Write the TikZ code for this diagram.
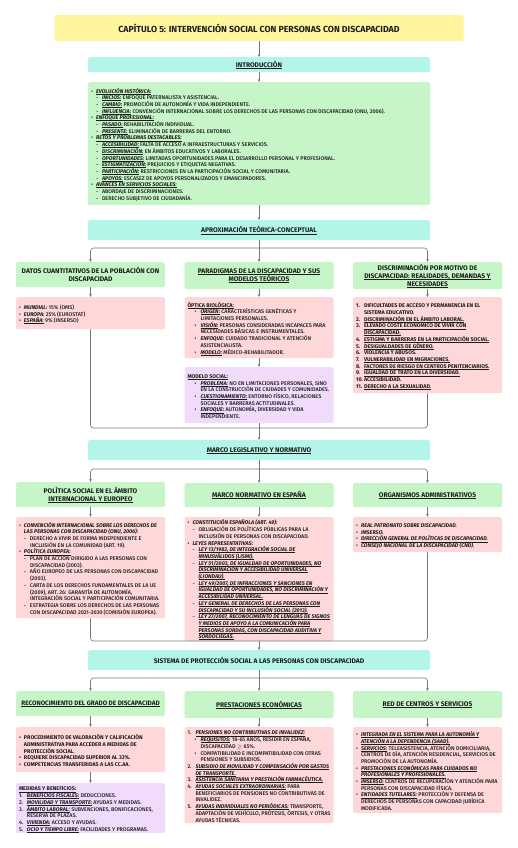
\documentclass[tikz,border=0pt]{standalone}
\usepackage{fontspec}
\setmainfont{Fira Sans}[UprightFont={* Medium}, ItalicFont={* Medium Italic}, BoldFont={* Bold}, BoldItalicFont={* Bold Italic}]
\usetikzlibrary{arrows.meta}

\definecolor{ttlyellow}{HTML}{FEF59E}
\definecolor{secteal}{HTML}{B4F5EA}
\definecolor{hdgreen}{HTML}{C6F6C8}
\definecolor{txpink}{HTML}{FED8D8}
\definecolor{txlilac}{HTML}{F1DBFB}
\definecolor{linkgray}{HTML}{777777}
\definecolor{inkdark}{HTML}{1C1C1C}

\newcommand{\bodyfont}{\fontsize{5.4}{6.7}\selectfont}
\newcommand{\headfont}{\fontsize{6.7}{8}\selectfont\bfseries}
\newcommand{\ulword}[1]{\leavevmode\setbox0\hbox{#1}\rlap{\rule[-1pt]{\wd0}{0.35pt}}\box0}
\newcommand{\ulspace}{\leaders\hrule height -0.65pt depth 1pt\hskip\fontdimen2\font\relax}
\def\ulA#1 #2\ulend{\ulword{#1}\if\relax\detokenize{#2}\relax\else\ulspace\ulA#2\ulend\fi}
\newcommand{\ulin}[1]{\ulA#1 \ulend}
\newcommand{\lbl}[1]{\textbf{\textit{\ulin{#1}}}}
\newcommand{\lblx}[1]{\textbf{\textit{#1}}}
\newcommand{\topi}[1]{\par\noindent\hangindent=5pt\hangafter=1\makebox[5pt][l]{\textbullet}#1\par}
\newcommand{\subi}[1]{\par\noindent\hangindent=11pt\hangafter=1\hspace*{5pt}\makebox[6pt][l]{-}#1\par}
\newcommand{\subb}[1]{\par\noindent\hangindent=13pt\hangafter=1\hspace*{7pt}\makebox[6pt][l]{\textbullet}#1\par}
\newcommand{\numi}[2]{\par\noindent\hangindent=8pt\hangafter=1\makebox[8pt][l]{#1.}#2\par}

\begin{document}
\begin{tikzpicture}[x=1pt, y=-1pt,
	wide/.style={anchor=north, rounded corners=2pt, text width=336pt, inner xsep=3pt, inner ysep=1pt, align=flush center, font=\headfont, text=inkdark},
	col/.style={anchor=north, rounded corners=2pt, text width=143pt, inner xsep=3pt, inner ysep=1pt, align=flush left, font=\bodyfont, text=inkdark},
	hd/.style={col, text width=147pt, inner xsep=1pt, align=flush center, font=\headfont, fill=hdgreen},
	conn/.style={draw=linkgray, line width=0.6pt, rounded corners=3pt},
	arr/.style={conn, -{Stealth[length=3pt, width=2.6pt]}}]
	\useasboundingbox (0,0) rectangle (517,848);

	\node[wide, fill=ttlyellow, text width=403pt, minimum height=26pt, font=\fontsize{8.8}{10}\selectfont\bfseries] (title) at (259,15) {CAPÍTULO 5: INTERVENCIÓN SOCIAL CON PERSONAS CON DISCAPACIDAD};
	\node[wide, fill=secteal, minimum height=15pt] (intro) at (259,57) {\ulin{INTRODUCCIÓN}};
	\node[wide, fill=hdgreen, align=flush left, font=\bodyfont, minimum height=123pt] (introtxt) at (259,82) {%
		\topi{\lbl{EVOLUCIÓN HISTÓRICA:}}
		\subi{\lbl{INICIOS:} ENFOQUE PATERNALISTA Y ASISTENCIAL.}
		\subi{\lbl{CAMBIO:} PROMOCIÓN DE AUTONOMÍA Y VIDA INDEPENDIENTE.}
		\subi{\lbl{INFLUENCIA:} CONVENCIÓN INTERNACIONAL SOBRE LOS DERECHOS DE LAS PERSONAS CON DISCAPACIDAD (ONU, 2006).}
		\topi{\lbl{ENFOQUE PROFESIONAL:}}
		\subi{\lbl{PASADO:} REHABILITACIÓN INDIVIDUAL.}
		\subi{\lbl{PRESENTE:} ELIMINACIÓN DE BARRERAS DEL ENTORNO.}
		\topi{\lbl{RETOS Y PROBLEMAS DESTACABLES:}}
		\subi{\lbl{ACCESIBILIDAD:} FALTA DE ACCESO A INFRAESTRUCTURAS Y SERVICIOS.}
		\subi{\lbl{DISCRIMINACIÓN:} EN ÁMBITOS EDUCATIVOS Y LABORALES.}
		\subi{\lbl{OPORTUNIDADES:} LIMITADAS OPORTUNIDADES PARA EL DESARROLLO PERSONAL Y PROFESIONAL.}
		\subi{\lbl{ESTIGMATIZACIÓN:} PREJUICIOS Y ETIQUETAS NEGATIVAS.}
		\subi{\lbl{PARTICIPACIÓN:} RESTRICCIONES EN LA PARTICIPACIÓN SOCIAL Y COMUNITARIA.}
		\subi{\lbl{APOYOS:} ESCASEZ DE APOYOS PERSONALIZADOS Y EMANCIPADORES.}
		\topi{\lbl{AVANCES EN SERVICIOS SOCIALES:}}
		\subi{ABORDAJE DE DISCRIMINACIONES.}
		\subi{DERECHO SUBJETIVO DE CIUDADANÍA.}};
	\node[wide, fill=secteal, minimum height=20pt] (aprox) at (259,220) {\ulin{APROXIMACIÓN TEÓRICA-CONCEPTUAL}};

	\node[hd, minimum height=25pt] (datos) at (90.5,262) {DATOS CUANTITATIVOS DE LA POBLACIÓN CON\\DISCAPACIDAD};
	\node[hd, minimum height=27pt] (paradig) at (259,262) {\ulin{PARADIGMAS DE LA DISCAPACIDAD Y SUS}\\\ulin{MODELOS TEÓRICOS}};
	\node[hd, minimum height=27pt] (discrim) at (427.5,262) {DISCRIMINACIÓN POR MOTIVO DE\\\ulin{DISCAPACIDAD: REALIDADES, DEMANDAS Y}\\\ulin{NECESIDADES}};

	\node[col, fill=txpink, minimum height=32pt] (datostxt) at (90.5,297) {%
		\topi{\lblx{MUNDIAL:} 15\% (OMS)}
		\topi{\lblx{EUROPA:} 25\% (EUROSTAT)}
		\topi{\lbl{ESPAÑA:} 9\% (INSERSO)}};
	\node[col, fill=txpink, minimum height=61pt] (paradigbio) at (259,297) {%
		\par\noindent\textbf{\ulin{ÓPTICA BIOLÓGICA:}}
		\subb{\lbl{ORIGEN:} CARACTERÍSTICAS GENÉTICAS Y LIMITACIONES PERSONALES.}
		\subb{\lbl{VISIÓN:} PERSONAS CONSIDERADAS INCAPACES PARA NECESIDADES BÁSICAS E INSTRUMENTALES.}
		\subb{\lblx{ENFOQUE:} CUIDADO TRADICIONAL Y ATENCIÓN ASISTENCIALISTA.}
		\subb{\lbl{MODELO:} MÉDICO-REHABILITADOR.}};
	\node[col, fill=txlilac, minimum height=56pt] (paradigsoc) at (259,367) {%
		\par\noindent\textbf{\ulin{MODELO SOCIAL:}}
		\subb{\lbl{PROBLEMA:} NO EN LIMITACIONES PERSONALES, SINO EN LA CONSTRUCCIÓN DE CIUDADES Y COMUNIDADES.}
		\subb{\lbl{CUESTIONAMIENTO:} ENTORNO FÍSICO, RELACIONES SOCIALES Y BARRERAS ACTITUDINALES.}
		\subb{\lbl{ENFOQUE:} AUTONOMÍA, DIVERSIDAD Y VIDA INDEPENDIENTE.}};
	\node[col, fill=txpink, minimum height=96pt, font=\bodyfont\bfseries] (discrimtxt) at (427.5,297) {%
		\numi{1}{DIFICULTADES DE ACCESO Y PERMANENCIA EN EL SISTEMA EDUCATIVO.}
		\numi{2}{\ulin{DISCRIMINACIÓN EN EL ÁMBITO LABORAL.}}
		\numi{3}{\ulin{ELEVADO COSTE ECONÓMICO DE VIVIR CON DISCAPACIDAD.}}
		\numi{4}{\ulin{ESTIGMA Y BARRERAS EN LA PARTICIPACIÓN SOCIAL.}}
		\numi{5}{\ulin{DESIGUALDADES DE GÉNERO.}}
		\numi{6}{VIOLENCIA Y ABUSOS.}
		\numi{7}{\ulin{VULNERABILIDAD EN MIGRACIONES.}}
		\numi{8}{\ulin{FACTORES DE RIESGO EN CENTROS PENITENCIARIOS.}}
		\numi{9}{\ulin{IGUALDAD DE TRATO EN LA DIVERSIDAD.}}
		\numi{10}{ACCESIBILIDAD.}
		\numi{11}{\ulin{DERECHO A LA SEXUALIDAD.}}};

	\node[wide, fill=secteal, minimum height=20pt] (marco) at (259,440) {\ulin{MARCO LEGISLATIVO Y NORMATIVO}};

	\node[hd, minimum height=25pt] (polsoc) at (90.5,482) {POLÍTICA SOCIAL EN EL ÁMBITO\\\ulin{INTERNACIONAL Y EUROPEO}};
	\node[hd, minimum height=24pt] (marcoesp) at (259,483) {\ulin{MARCO NORMATIVO EN ESPAÑA}};
	\node[hd, minimum height=24pt] (organ) at (427.5,483) {\ulin{ORGANISMOS ADMINISTRATIVOS}};

	\node[col, fill=txpink, minimum height=101pt] (polsoctxt) at (90.5,517) {%
		\topi{\lblx{CONVENCIÓN INTERNACIONAL SOBRE LOS DERECHOS DE LAS PERSONAS CON DISCAPACIDAD (ONU, 2006):}}
		\subi{DERECHO A VIVIR DE FORMA INDEPENDIENTE E INCLUSIÓN EN LA COMUNIDAD (ART. 19).}
		\topi{\lbl{POLÍTICA EUROPEA:}}
		\subi{PLAN DE ACCIÓN DIRIGIDO A LAS PERSONAS CON DISCAPACIDAD (2003).}
		\subi{AÑO EUROPEO DE LAS PERSONAS CON DISCAPACIDAD (2003).}
		\subi{CARTA DE LOS DERECHOS FUNDAMENTALES DE LA UE (2009), ART. 26: GARANTÍA DE AUTONOMÍA, INTEGRACIÓN SOCIAL Y PARTICIPACIÓN COMUNITARIA.}
		\subi{ESTRATEGIA SOBRE LOS DERECHOS DE LAS PERSONAS CON DISCAPACIDAD 2021-2030 (COMISIÓN EUROPEA).}};
	\node[col, fill=txpink, minimum height=116pt] (marcoesptxt) at (259,517) {%
		\topi{\lblx{CONSTITUCIÓN ESPAÑOLA (ART. 49):}}
		\subi{OBLIGACIÓN DE POLÍTICAS PÚBLICAS PARA LA INCLUSIÓN DE PERSONAS CON DISCAPACIDAD.}
		\topi{\lblx{LEYES REPRESENTATIVAS:}}
		\subi{\lbl{LEY 13/1982, DE INTEGRACIÓN SOCIAL DE MINUSVÁLIDOS (LISMI).}}
		\subi{\lbl{LEY 51/2003, DE IGUALDAD DE OPORTUNIDADES, NO DISCRIMINACIÓN Y ACCESIBILIDAD UNIVERSAL (LIONDAU).}}
		\subi{\lbl{LEY 49/2007, DE INFRACCIONES Y SANCIONES EN IGUALDAD DE OPORTUNIDADES, NO DISCRIMINACIÓN Y ACCESIBILIDAD UNIVERSAL.}}
		\subi{\lbl{LEY GENERAL DE DERECHOS DE LAS PERSONAS CON DISCAPACIDAD Y SU INCLUSIÓN SOCIAL (2013).}}
		\subi{\lbl{LEY 27/2007, RECONOCIMIENTO DE LENGUAS DE SIGNOS Y MEDIOS DE APOYO A LA COMUNICACIÓN PARA PERSONAS SORDAS, CON DISCAPACIDAD AUDITIVA Y SORDOCIEGAS.}}};
	\node[col, fill=txpink, minimum height=35pt] (organtxt) at (427.5,517) {%
		\topi{\lblx{REAL PATRONATO SOBRE DISCAPACIDAD.}}
		\topi{\lblx{IMSERSO.}}
		\topi{\lbl{DIRECCIÓN GENERAL DE POLÍTICAS DE DISCAPACIDAD.}}
		\topi{\lblx{CONSEJO NACIONAL DE LA DISCAPACIDAD (CND).}}};

	\node[wide, fill=secteal, minimum height=20pt] (sistema) at (259,650) {SISTEMA DE PROTECCIÓN SOCIAL A LAS PERSONAS CON DISCAPACIDAD};

	\node[hd, minimum height=25pt, font=\fontsize{6.4}{8}\selectfont\bfseries] (grado) at (90.5,691) {\ulin{RECONOCIMIENTO DEL GRADO DE DISCAPACIDAD}};
	\node[hd, minimum height=27pt] (prest) at (259,691) {\ulin{PRESTACIONES ECONÓMICAS}};
	\node[hd, minimum height=27pt] (red) at (427.5,691) {\ulin{RED DE CENTROS Y SERVICIOS}};

	\node[col, fill=txpink, minimum height=45pt, font=\bodyfont\bfseries] (gradotxt) at (90.5,727) {%
		\topi{PROCEDIMIENTO DE VALORACIÓN Y CALIFICACIÓN ADMINISTRATIVA PARA ACCEDER A MEDIDAS DE PROTECCIÓN SOCIAL.}
		\topi{REQUIERE DISCAPACIDAD SUPERIOR AL 33\%.}
		\topi{COMPETENCIAS TRANSFERIDAS A LAS CC.AA.}};
	\node[col, fill=txlilac, minimum height=49pt] (gradomed) at (90.5,783) {%
		\par\noindent\textbf{\ulin{MEDIDAS Y BENEFICIOS:}}
		\numi{1}{\lbl{BENEFICIOS FISCALES:} DEDUCCIONES.}
		\numi{2}{\lbl{MOVILIDAD Y TRANSPORTE:} AYUDAS Y MEDIDAS.}
		\numi{3}{\lbl{ÁMBITO LABORAL:} SUBVENCIONES, BONIFICACIONES, RESERVA DE PLAZAS.}
		\numi{4}{\lbl{VIVIENDA:} ACCESO Y AYUDAS.}
		\numi{5}{\lbl{OCIO Y TIEMPO LIBRE:} FACILIDADES Y PROGRAMAS.}};
	\node[col, fill=txpink, minimum height=89pt] (presttxt) at (259,727) {%
		\numi{1}{\lbl{PENSIONES NO CONTRIBUTIVAS DE INVALIDEZ:}}
		\subb{\lbl{REQUISITOS:} 18-65 AÑOS, RESIDIR EN ESPAÑA, DISCAPACIDAD $\geq$ 65\%.}
		\subb{COMPATIBILIDAD E INCOMPATIBILIDAD CON OTRAS PENSIONES Y SUBSIDIOS.}
		\numi{2}{\lbl{SUBSIDIO DE MOVILIDAD Y COMPENSACIÓN POR GASTOS DE TRANSPORTE.}}
		\numi{3}{\lbl{ASISTENCIA SANITARIA Y PRESTACIÓN FARMACÉUTICA.}}
		\numi{4}{\lbl{AYUDAS SOCIALES EXTRAORDINARIAS:} PARA BENEFICIARIOS DE PENSIONES NO CONTRIBUTIVAS DE INVALIDEZ.}
		\numi{5}{\lbl{AYUDAS INDIVIDUALES NO PERIÓDICAS:} TRANSPORTE, ADAPTACIÓN DE VEHÍCULO, PRÓTESIS, ÓRTESIS, Y OTRAS AYUDAS TÉCNICAS.}};
	\node[col, fill=txpink, minimum height=86pt] (redtxt) at (427.5,727) {%
		\topi{\lbl{INTEGRADA EN EL SISTEMA PARA LA AUTONOMÍA Y ATENCIÓN A LA DEPENDENCIA (SAAD).}}
		\topi{\lbl{SERVICIOS:} TELEASISTENCIA, ATENCIÓN DOMICILIARIA, CENTROS DE DÍA, ATENCIÓN RESIDENCIAL, SERVICIOS DE PROMOCIÓN DE LA AUTONOMÍA.}
		\topi{\lbl{PRESTACIONES ECONÓMICAS PARA CUIDADOS NO PROFESIONALES Y PROFESIONALES.}}
		\topi{\lbl{IMSERSO:} CENTROS DE RECUPERACIÓN Y ATENCIÓN PARA PERSONAS CON DISCAPACIDAD FÍSICA.}
		\topi{\lbl{ENTIDADES TUTELARES:} PROTECCIÓN Y DEFENSA DE DERECHOS DE PERSONAS CON CAPACIDAD JURÍDICA MODIFICADA.}};

	\coordinate (jA) at (259,248);
	\coordinate (jB) at (259,428);
	\coordinate (jC) at (259,469);
	\coordinate (jD) at (259,641);
	\coordinate (jE) at (259,678);

	\draw[arr] (title.south) -- (intro.north);
	\draw[arr] (intro.south) -- (introtxt.north);
	\draw[arr] (introtxt.south) -- (aprox.north);
	\draw[arr] (aprox.south) -- (paradig.north);
	\draw[arr] (jA) -| (datos.north);
	\draw[arr] (jA) -| (discrim.north);
	\draw[arr] (datos.south) -- (datostxt.north);
	\draw[arr] (paradig.south) -- (paradigbio.north);
	\draw[arr] (paradigbio.south) -- (paradigsoc.north);
	\draw[arr] (discrim.south) -- (discrimtxt.north);
	\draw[conn] (datostxt.south) |- (jB);
	\draw[conn] (discrimtxt.south) |- (jB);
	\draw[arr] (paradigsoc.south) -- (marco.north);

	\draw[arr] (marco.south) -- (marcoesp.north);
	\draw[arr] (jC) -| (polsoc.north);
	\draw[arr] (jC) -| (organ.north);
	\draw[arr] (polsoc.south) -- (polsoctxt.north);
	\draw[arr] (marcoesp.south) -- (marcoesptxt.north);
	\draw[arr] (organ.south) -- (organtxt.north);
	\draw[conn] (polsoctxt.south) |- (jD);
	\draw[conn] (organtxt.south) |- (jD);
	\draw[arr] (marcoesptxt.south) -- (sistema.north);

	\draw[arr] (sistema.south) -- (prest.north);
	\draw[arr] (jE) -| (grado.north);
	\draw[arr] (jE) -| (red.north);
	\draw[arr] (grado.south) -- (gradotxt.north);
	\draw[arr] (gradotxt.south) -- (gradomed.north);
	\draw[arr] (prest.south) -- (presttxt.north);
	\draw[arr] (red.south) -- (redtxt.north);
\end{tikzpicture}
\end{document}
